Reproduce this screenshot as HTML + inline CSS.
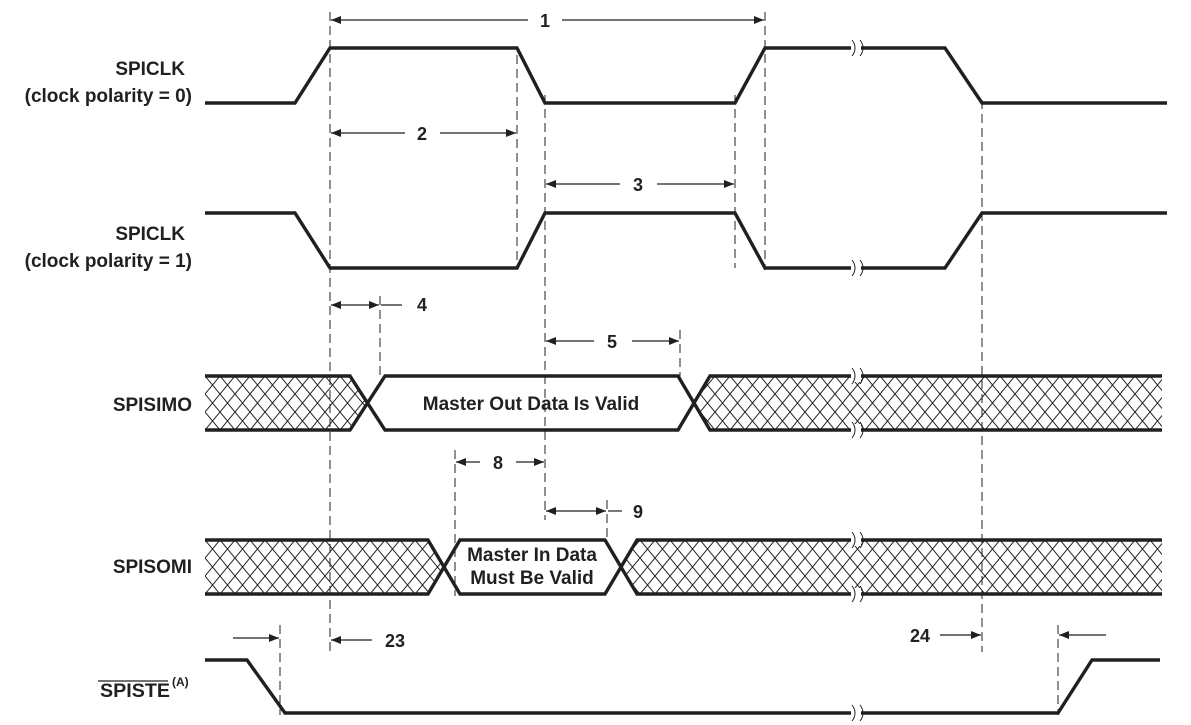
<!DOCTYPE html>
<html><head><meta charset="utf-8"><style>
html,body{margin:0;padding:0;background:#fff;}
svg{display:block;}
text{font-family:"Liberation Sans",sans-serif;font-weight:bold;fill:#231f20;}
</style></head><body>
<svg width="1191" height="725" viewBox="0 0 1191 725" xmlns="http://www.w3.org/2000/svg">
<defs>
<pattern id="h" width="15" height="18" patternUnits="userSpaceOnUse" x="205" y="376">
<path d="M0,0 L15,18 M15,0 L0,18" stroke="#231f20" stroke-width="1" fill="none"/>
</pattern>
<pattern id="h2" width="15" height="18" patternUnits="userSpaceOnUse" x="205" y="540">
<path d="M0,0 L15,18 M15,0 L0,18" stroke="#231f20" stroke-width="1" fill="none"/>
</pattern>
<marker id="a" viewBox="0 0 10 10" refX="10" refY="5" markerWidth="12" markerHeight="10" markerUnits="userSpaceOnUse" orient="auto-start-reverse"><path d="M0,1 L10,5 L0,9 z" fill="#231f20"/></marker>
<g id="brk">
<rect x="851" y="-6" width="10" height="12" fill="#fff"/>
<path d="M852,-8 C856,-3 856,3 852,8 M860,-8 C864,-3 864,3 860,8" stroke="#231f20" stroke-width="1" fill="none"/>
</g>
</defs>

<polygon points="205,376 350,376 368,403 350,430 205,430" fill="url(#h)"/>
<polygon points="1162,376 710,376 694,403 710,430 1162,430" fill="url(#h)"/>
<polygon points="205,540 428,540 444,567 428,594 205,594" fill="url(#h2)"/>
<polygon points="1162,540 637,540 621,567 637,594 1162,594" fill="url(#h2)"/>

<g stroke="#231f20" stroke-width="1" stroke-dasharray="9,5" fill="none">
<line x1="330" y1="12" x2="330" y2="655"/>
<line x1="517" y1="55" x2="517" y2="268"/>
<line x1="545" y1="95" x2="545" y2="520"/>
<line x1="735" y1="95" x2="735" y2="268"/>
<line x1="765" y1="12" x2="765" y2="270"/>
<line x1="982" y1="100" x2="982" y2="652"/>
<line x1="380" y1="296" x2="380" y2="376"/>
<line x1="680" y1="330" x2="680" y2="378"/>
<line x1="455" y1="450" x2="455" y2="596"/>
<line x1="607" y1="500" x2="607" y2="545"/>
<line x1="280" y1="625" x2="280" y2="715"/>
<line x1="1058" y1="625" x2="1058" y2="715"/>
</g>

<g stroke="#231f20" stroke-width="3.4" fill="none">
<polyline points="205,103 295,103 330,48 517,48 545,103 735,103 765,48 945,48 982,103 1167,103"/>
<polyline points="205,213 295,213 330,268 517,268 545,213 735,213 765,268 945,268 982,213 1167,213"/>
<polyline points="205,376 350,376 385,430 678,430 710,376 1162,376"/>
<polyline points="205,430 350,430 385,376 678,376 710,430 1162,430"/>
<polyline points="205,540 428,540 460,594 605,594 637,540 1162,540"/>
<polyline points="205,594 428,594 460,540 605,540 637,594 1162,594"/>
<polyline points="205,660 247,660 285,713 1058,713 1092,660 1160,660"/>
</g>

<use href="#brk" y="48"/>
<use href="#brk" y="268"/>
<use href="#brk" y="376"/>
<use href="#brk" y="430"/>
<use href="#brk" y="540"/>
<use href="#brk" y="594"/>
<use href="#brk" y="713"/>

<g stroke="#231f20" stroke-width="1.2" fill="none">
<line x1="331" y1="20" x2="528" y2="20" marker-start="url(#a)"/>
<line x1="562" y1="20" x2="764" y2="20" marker-end="url(#a)"/>
<line x1="331" y1="133" x2="405" y2="133" marker-start="url(#a)"/>
<line x1="440" y1="133" x2="516" y2="133" marker-end="url(#a)"/>
<line x1="546" y1="184" x2="620" y2="184" marker-start="url(#a)"/>
<line x1="657" y1="184" x2="734" y2="184" marker-end="url(#a)"/>
<line x1="331" y1="305" x2="379" y2="305" marker-start="url(#a)" marker-end="url(#a)"/>
<line x1="381" y1="305" x2="402" y2="305"/>
<line x1="546" y1="341" x2="594" y2="341" marker-start="url(#a)"/>
<line x1="632" y1="341" x2="679" y2="341" marker-end="url(#a)"/>
<line x1="456" y1="462" x2="480" y2="462" marker-start="url(#a)"/>
<line x1="516" y1="462" x2="544" y2="462" marker-end="url(#a)"/>
<line x1="546" y1="511" x2="606" y2="511" marker-start="url(#a)" marker-end="url(#a)"/>
<line x1="608" y1="511" x2="622" y2="511"/>
<line x1="233" y1="638" x2="279" y2="638" marker-end="url(#a)"/>
<line x1="331" y1="640" x2="372" y2="640" marker-start="url(#a)"/>
<line x1="940" y1="635" x2="981" y2="635" marker-end="url(#a)"/>
<line x1="1059" y1="635" x2="1106" y2="635" marker-start="url(#a)"/>
</g>

<g font-size="18" text-anchor="middle">
<text x="545" y="27">1</text>
<text x="422" y="140">2</text>
<text x="638" y="191">3</text>
<text x="422" y="311">4</text>
<text x="612" y="348">5</text>
<text x="498" y="469">8</text>
<text x="638" y="518">9</text>
<text x="395" y="647">23</text>
<text x="920" y="642">24</text>
</g>

<g font-size="19" text-anchor="end">
<text x="185" y="75">SPICLK</text>
<text x="192" y="102">(clock polarity = 0)</text>
<text x="185" y="240">SPICLK</text>
<text x="192" y="267">(clock polarity = 1)</text>
<text x="192" y="411">SPISIMO</text>
<text x="192" y="573">SPISOMI</text>
</g>
<text x="100" y="697" font-size="19" textLength="70" lengthAdjust="spacingAndGlyphs">SPISTE</text>
<line x1="98" y1="681" x2="168" y2="681" stroke="#231f20" stroke-width="1.3"/>
<text x="172" y="686" font-size="12">(A)</text>

<g font-size="19" text-anchor="middle">
<text x="531" y="410">Master Out Data Is Valid</text>
<text x="532" y="561">Master In Data</text>
<text x="532" y="584">Must Be Valid</text>
</g>
</svg>
</body></html>
